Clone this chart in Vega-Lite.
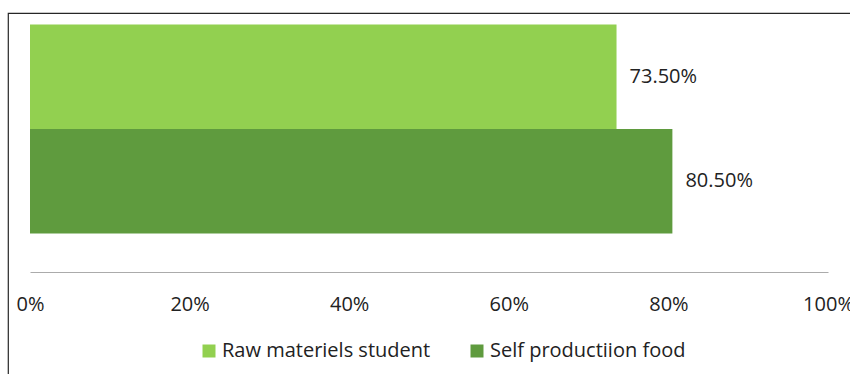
{
  "$schema": "https://vega.github.io/schema/vega-lite/v6.json",
  "width": 845,
  "height": 364,
  "autosize": {"type": "none"},
  "padding": {"left": 8, "top": 13, "right": 0, "bottom": 0},
  "background": "white",
  "config": {"view": {"stroke": "#262626", "strokeWidth": 1.2}, "font": "Open Sans"},
  "data": {"values": [
    {"series": "Raw materiels student", "value": 0.735},
    {"series": "Self productiion food", "value": 0.805}
  ]},
  "encoding": {
    "y": {"field": "series", "type": "nominal", "sort": null, "axis": null,
          "scale": {"range": [11.5, 220.5], "paddingInner": 0, "paddingOuter": 0}},
    "x": {"field": "value", "type": "quantitative",
          "scale": {"domain": [0, 1], "range": [22, 820], "nice": false},
          "axis": {"values": [0, 0.2, 0.4, 0.6, 0.8, 1], "format": "%", "ticks": false, "tickSize": 0,
                   "grid": false, "offset": -105, "domainColor": "#ABABAB", "domainWidth": 1.2,
                   "labelFontSize": 20, "labelColor": "#222", "labelPadding": 38, "labelFont": "Open Sans",
                   "labelBaseline": "alphabetic", "labelFlush": false, "title": null}}
  },
  "layer": [
    {"mark": {"type": "bar", "strokeWidth": 0},
     "encoding": {"color": {"field": "series", "type": "nominal",
        "scale": {"domain": ["Raw materiels student", "Self productiion food"], "range": ["#92D050", "#5F9B3E"]},
        "legend": {"orient": "none", "legendX": 191, "legendY": 328, "direction": "horizontal", "title": null,
                   "symbolType": "square", "symbolSize": 169, "symbolStrokeWidth": 0, "symbolOpacity": 1,
                   "labelFontSize": 20, "labelFont": "Open Sans", "labelOffset": 3, "labelLimit": 0,
                   "columnPadding": 36, "labelColor": "#222"}}}},
    {"mark": {"type": "text", "align": "left", "dx": 13, "baseline": "middle", "fontSize": 20, "color": "#222", "font": "Open Sans"},
     "encoding": {"text": {"field": "value", "type": "quantitative", "format": ".2%"}}}
  ]
}
